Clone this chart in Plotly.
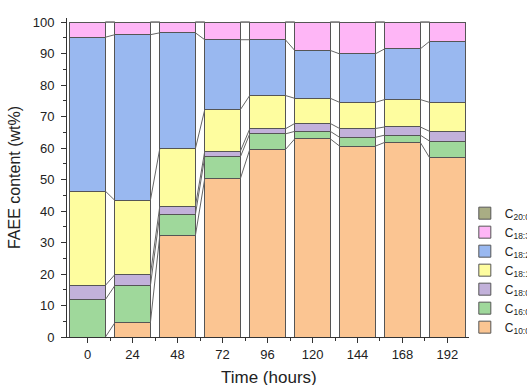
import plotly.graph_objects as go
import numpy as np

times = [0, 24, 48, 72, 96, 120, 144, 168, 192]
series_names = ["C<sub>10:0</sub>", "C<sub>16:0</sub>", "C<sub>18:0</sub>", "C<sub>18:1</sub>",
                "C<sub>18:2</sub>", "C<sub>18:3</sub>", "C<sub>20:0</sub>"]
c10_0 = [0.0, 4.5, 32.2, 50.3, 59.5, 62.9, 60.6, 61.8, 56.9]
c16_0 = [11.9, 11.8, 6.7, 6.9, 5.0, 2.4, 2.8, 2.3, 5.3]
c18_0 = [4.5, 3.5, 2.6, 1.8, 1.6, 2.5, 2.8, 2.6, 3.1]
c18_1 = [29.9, 23.6, 18.3, 13.2, 10.6, 8.0, 8.3, 8.7, 9.2]
c18_2 = [48.9, 52.6, 36.8, 22.2, 17.7, 15.2, 15.4, 16.1, 19.4]
c18_3 = [4.8, 4.0, 3.4, 5.6, 5.6, 9.0, 10.1, 8.5, 6.1]
c20_0 = [0.0, 0.0, 0.0, 0.0, 0.0, 0.0, 0.0, 0.0, 0.0]

series = [c10_0, c16_0, c18_0, c18_1, c18_2, c18_3, c20_0]
colors = ["#fbc592", "#9fd89b", "#c2b1da", "#fefd9f", "#99b8f0", "#feb6f6", "#a9ad84"]

bar_w = 19
fig = go.Figure()
for name, vals, col in zip(series_names, series, colors):
    fig.add_trace(go.Bar(x=times, y=vals, name=name, width=bar_w,
                         marker=dict(color=col, line=dict(color="#555555", width=1))))

# connector lines between stacked levels
cum = np.cumsum(np.array(series), axis=0)
cx, cy = [], []
for level in cum:
    for i in range(len(times) - 1):
        cx += [times[i] + bar_w / 2, times[i + 1] - bar_w / 2, None]
        cy += [level[i], level[i + 1], None]
fig.add_trace(go.Scatter(x=cx, y=cy, mode="lines", line=dict(color="#666666", width=1),
                         showlegend=False, hoverinfo="skip"))

font_fam = "Liberation Sans, Arial, sans-serif"
fig.update_layout(
    barmode="stack",
    width=527, height=385,
    margin=dict(l=67, r=58, t=18, b=48, autoexpand=False),
    paper_bgcolor="white", plot_bgcolor="white",
    font=dict(family=font_fam, size=13, color="#222222"),
    showlegend=True,
    legend=dict(xref="container", yref="container", x=0.882, y=0.484,
                xanchor="left", yanchor="top", traceorder="reversed",
                font=dict(size=12, color="#222222"), tracegroupgap=0,
                itemwidth=30, bgcolor="rgba(0,0,0,0)"),
    xaxis=dict(range=[-11, 203.5], tickmode="array", tickvals=times,
               ticktext=[str(t) for t in times],
               showline=True, linecolor="#333333", linewidth=1,
               ticks="outside", ticklen=5, tickcolor="#333333",
               minor=dict(tickmode="array", tickvals=[-12, 12, 36, 60, 84, 108, 132, 156, 180, 204],
                          ticks="outside", ticklen=3, tickcolor="#333333"),
               showgrid=False, zeroline=False, automargin=False),
    yaxis=dict(range=[0, 101.3], dtick=10, tick0=0,
               showline=True, linecolor="#333333", linewidth=1,
               ticks="outside", ticklen=5, tickcolor="#333333", ticklabelstandoff=4,
               minor=dict(dtick=5, ticks="outside", ticklen=3, tickcolor="#333333"),
               showgrid=False, zeroline=False,
               title=dict(text="FAEE content (wt%)", font=dict(size=16), standoff=8),
               automargin=False),
    annotations=[dict(text="Time (hours)", xref="paper", yref="paper", x=0.5, y=0,
                      xanchor="center", yanchor="top", yshift=-29, xshift=1,
                      showarrow=False, font=dict(size=17, color="#222222"))],
)
fig.write_html("out.html", config={"displayModeBar": False},
               post_script="document.body.style.margin='0';")
